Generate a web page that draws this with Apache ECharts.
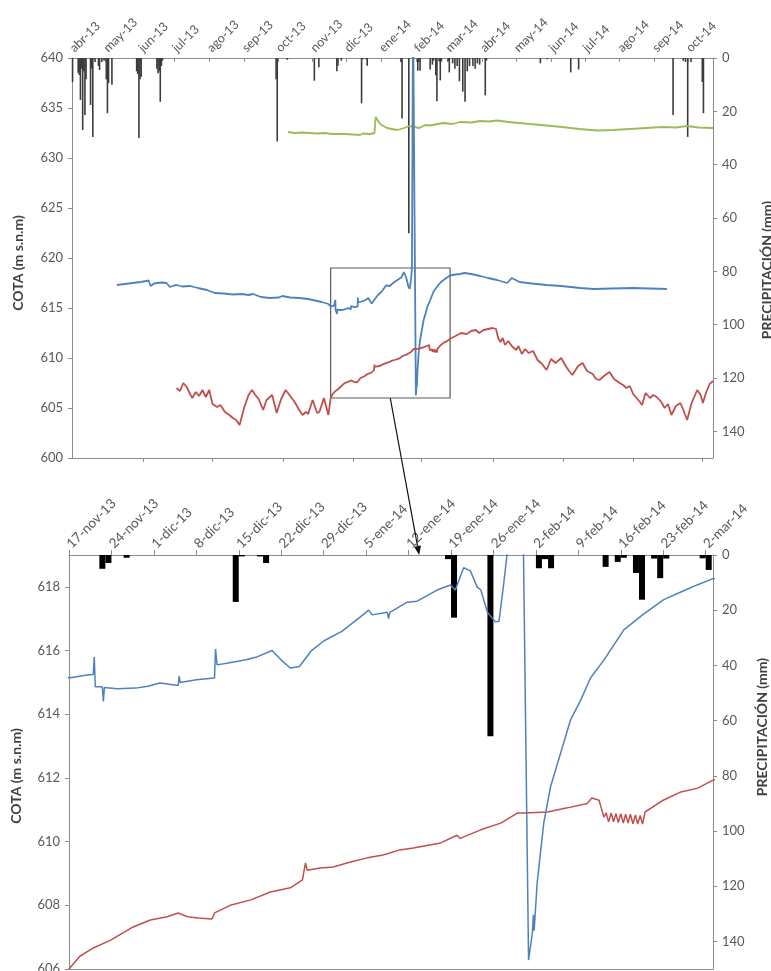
<!DOCTYPE html>
<html>
<head>
<meta charset="utf-8">
<script src="https://cdn.jsdelivr.net/npm/echarts@6/dist/echarts.min.js"></script>
<style>
  html, body { margin: 0; padding: 0; background: #fff; }
  #main { width: 771px; height: 971px; }
</style>
</head>
<body>
<div id="main"></div>
<script>
// nombres de los meses para las etiquetas
var MESES = ['ene', 'feb', 'mar', 'abr', 'may', 'jun', 'jul', 'ago', 'sep', 'oct', 'nov', 'dic'];

// ejes de tiempo
var fechaIni = '2013-04-01', fechaFin = '2014-10-23';
var zoomIni = '2013-11-17', zoomFin = '2014-03-03 05:00';
var zoomCotaMin = 606, zoomCotaMax = 619;

var monthTicks = ['2013-04-01', '2013-05-01', '2013-06-01', '2013-07-01', '2013-08-01', '2013-09-01',
  '2013-10-01', '2013-11-01', '2013-12-01', '2014-01-01', '2014-02-01', '2014-03-01', '2014-04-01',
  '2014-05-01', '2014-06-01', '2014-07-01', '2014-08-01', '2014-09-01', '2014-10-01'];
var lowerTicks = ['2013-06-03', '2013-08-04', '2013-10-06', '2013-12-07', '2014-02-06', '2014-04-11',
  '2014-06-12', '2014-08-13', '2014-10-13'];
var weekTicks = ['2013-11-17', '2013-11-24', '2013-12-01', '2013-12-08', '2013-12-15', '2013-12-22',
  '2013-12-29', '2014-01-05', '2014-01-12', '2014-01-19', '2014-01-26', '2014-02-02', '2014-02-09',
  '2014-02-16', '2014-02-23', '2014-03-02'];

// precipitación diaria (mm)
var precip = [
  ['2013-04-01', 9.0], ['2013-04-06', 5.5], ['2013-04-07', 6.4], ['2013-04-08', 15.7], ['2013-04-09', 4.0],
  ['2013-04-10', 27.0], ['2013-04-11', 5.0], ['2013-04-12', 21.4], ['2013-04-13', 8.0], ['2013-04-17', 17.6],
  ['2013-04-18', 4.0], ['2013-04-19', 29.6], ['2013-04-21', 1.5], ['2013-04-24', 3.0], ['2013-04-25', 4.5],
  ['2013-04-27', 1.5], ['2013-04-29', 1.0], ['2013-05-01', 8.0], ['2013-05-02', 20.7], ['2013-05-03', 9.4],
  ['2013-05-06', 10.0], ['2013-05-28', 5.0], ['2013-05-29', 6.0], ['2013-05-30', 30.0], ['2013-05-31', 8.0],
  ['2013-06-01', 7.0], ['2013-06-15', 4.0], ['2013-06-16', 5.7], ['2013-06-17', 5.0], ['2013-06-18', 16.4],
  ['2013-06-19', 3.0], ['2013-06-20', 1.0], ['2013-09-29', 8.0], ['2013-09-30', 31.3], ['2013-10-09', 0.7],
  ['2013-11-02', 8.5], ['2013-11-06', 3.5],
  ['2013-11-22', 5.0], ['2013-11-23', 2.9], ['2013-11-26', 1.0], ['2013-12-14', 17.0], ['2013-12-15', 0.5],
  ['2013-12-18', 0.5], ['2013-12-19', 2.9], ['2014-01-18', 1.5], ['2014-01-19', 22.7], ['2014-01-25', 65.7],
  ['2014-02-02', 4.8], ['2014-02-03', 1.5], ['2014-02-04', 4.8], ['2014-02-13', 4.3], ['2014-02-15', 2.5],
  ['2014-02-16', 1.0], ['2014-02-18', 6.5], ['2014-02-19', 16.2], ['2014-02-21', 1.3], ['2014-02-22', 8.4],
  ['2014-02-23', 1.3], ['2014-03-01', 1.2], ['2014-03-02', 5.4],
  ['2014-03-05', 2.0], ['2014-03-07', 4.0], ['2014-03-09', 3.0], ['2014-03-11', 8.7], ['2014-03-14', 12.6],
  ['2014-03-16', 16.4], ['2014-03-18', 5.0], ['2014-03-20', 3.0], ['2014-03-23', 3.0], ['2014-03-25', 4.0],
  ['2014-03-27', 2.0], ['2014-03-29', 2.5], ['2014-04-03', 14.0], ['2014-04-04', 1.0], ['2014-05-22', 2.0],
  ['2014-05-28', 0.5], ['2014-06-18', 5.4], ['2014-06-25', 4.3], ['2014-09-17', 21.4], ['2014-09-26', 1.0],
  ['2014-09-28', 1.5], ['2014-09-30', 29.6], ['2014-10-03', 1.5], ['2014-10-13', 9.0], ['2014-10-14', 20.7]
];

// cota (m s.n.m) de los tres piezómetros
var cotaVerde = [
  ['2013-10-10', 632.6], ['2013-10-16', 632.5], ['2013-10-22', 632.55], ['2013-11-05', 632.45], ['2013-11-12', 632.5],
  ['2013-11-18', 632.4], ['2013-11-30', 632.4], ['2013-12-07', 632.35], ['2013-12-13', 632.3], ['2013-12-16', 632.45],
  ['2013-12-22', 632.4], ['2013-12-26', 632.5], ['2013-12-27', 634.1], ['2013-12-31', 633.4], ['2014-01-06', 633.0],
  ['2014-01-15', 632.8], ['2014-01-20', 632.95], ['2014-01-26', 633.2], ['2014-02-04', 633.0], ['2014-02-09', 633.3],
  ['2014-02-13', 633.25], ['2014-02-25', 633.5], ['2014-03-05', 633.4], ['2014-03-12', 633.6], ['2014-03-22', 633.55],
  ['2014-03-30', 633.7], ['2014-04-07', 633.65], ['2014-04-14', 633.75], ['2014-04-24', 633.6], ['2014-05-13', 633.4],
  ['2014-05-28', 633.25], ['2014-06-11', 633.1], ['2014-06-26', 632.9], ['2014-07-12', 632.75], ['2014-07-26', 632.8],
  ['2014-08-10', 632.9], ['2014-08-25', 633.0], ['2014-09-08', 633.1], ['2014-09-20', 633.05], ['2014-09-30', 633.2],
  ['2014-10-10', 633.05], ['2014-10-23', 633.0]
];

var cotaAzul = [
  ['2013-05-11', 617.3], ['2013-05-18', 617.4], ['2013-05-25', 617.5], ['2013-06-01', 617.6], ['2013-06-06', 617.7],
  ['2013-06-08', 617.75], ['2013-06-10', 617.2], ['2013-06-13', 617.45], ['2013-06-16', 617.5], ['2013-06-20', 617.55],
  ['2013-06-24', 617.5], ['2013-06-27', 617.1], ['2013-07-01', 617.25], ['2013-07-03', 617.3], ['2013-07-08', 617.15],
  ['2013-07-15', 617.2], ['2013-07-22', 617.0], ['2013-07-30', 616.8], ['2013-08-06', 616.5], ['2013-08-14', 616.45],
  ['2013-08-22', 616.35], ['2013-08-30', 616.4], ['2013-09-05', 616.3], ['2013-09-09', 616.4], ['2013-09-16', 616.1],
  ['2013-09-24', 616.0], ['2013-10-02', 616.05], ['2013-10-05', 616.2], ['2013-10-12', 616.05], ['2013-10-20', 616.0],
  ['2013-10-28', 615.9], ['2013-11-03', 615.75], ['2013-11-09', 615.6], ['2013-11-15', 615.4],
  ['2013-11-17', 615.14], ['2013-11-20', 615.23], ['2013-11-21 00:00', 615.25], ['2013-11-21 04:00', 615.8],
  ['2013-11-21 08:00', 614.86], ['2013-11-22 12:00', 614.86], ['2013-11-22 16:00', 614.4], ['2013-11-22 20:00', 614.84],
  ['2013-11-25', 614.8], ['2013-11-28', 614.82], ['2013-11-30', 614.88], ['2013-12-02', 614.98], ['2013-12-05', 614.9],
  ['2013-12-05 04:00', 615.2], ['2013-12-05 08:00', 615.0], ['2013-12-08', 615.08], ['2013-12-11 00:00', 615.14],
  ['2013-12-11 04:00', 616.05], ['2013-12-11 10:00', 615.55], ['2013-12-13', 615.6], ['2013-12-16', 615.7],
  ['2013-12-18', 615.8], ['2013-12-20 12:00', 616.0], ['2013-12-22', 615.7], ['2013-12-23 12:00', 615.45],
  ['2013-12-25', 615.5], ['2013-12-27', 616.0], ['2013-12-29', 616.3], ['2014-01-01', 616.6], ['2014-01-04', 617.05],
  ['2014-01-05 10:00', 617.27], ['2014-01-06', 617.12], ['2014-01-08 12:00', 617.2], ['2014-01-08 17:00', 617.0],
  ['2014-01-08 22:00', 617.2], ['2014-01-11 19:00', 617.52], ['2014-01-13 10:00', 617.55], ['2014-01-16 17:00', 617.9],
  ['2014-01-18 22:00', 618.06], ['2014-01-19 17:00', 617.9], ['2014-01-21 02:00', 618.6], ['2014-01-22 05:00', 618.5],
  ['2014-01-23 07:00', 618.0], ['2014-01-23 22:00', 617.9], ['2014-01-25', 617.2], ['2014-01-26 08:00', 616.9],
  ['2014-01-26 22:00', 616.92], ['2014-01-27 17:00', 618.12], ['2014-01-28 07:00', 619.1], ['2014-01-29 06:00', 645.0],
  ['2014-01-31 19:00', 606.28], ['2014-02-01 10:00', 607.13], ['2014-02-01 14:00', 607.7], ['2014-02-01 17:00', 607.2],
  ['2014-02-02 05:00', 608.7], ['2014-02-03 07:00', 610.58], ['2014-02-04 10:00', 611.72], ['2014-02-06 02:00', 612.78],
  ['2014-02-07 17:00', 613.82], ['2014-02-09 10:00', 614.45], ['2014-02-11', 615.14], ['2014-02-13 05:00', 615.7],
  ['2014-02-16 12:00', 616.65], ['2014-02-19 14:00', 617.12], ['2014-02-23 02:00', 617.6], ['2014-02-25 22:00', 617.84],
  ['2014-02-28 14:00', 618.06], ['2014-03-03 02:00', 618.25],
  ['2014-03-08', 618.35], ['2014-03-12', 618.4], ['2014-03-16', 618.5], ['2014-03-22', 618.4], ['2014-03-30', 618.2],
  ['2014-04-06', 618.0], ['2014-04-14', 617.8], ['2014-04-23', 617.5], ['2014-04-27', 618.0], ['2014-05-04', 617.6],
  ['2014-05-15', 617.45], ['2014-05-28', 617.3], ['2014-06-10', 617.2], ['2014-06-27', 617.0], ['2014-07-09', 616.9],
  ['2014-07-25', 616.95], ['2014-08-13', 617.0], ['2014-08-28', 616.95], ['2014-09-12', 616.9]
];

var cotaRoja = [
  ['2013-07-03', 607.0], ['2013-07-06', 606.7], ['2013-07-09', 607.5], ['2013-07-12', 607.1], ['2013-07-15', 606.4],
  ['2013-07-17', 606.0], ['2013-07-20', 606.6], ['2013-07-23', 606.2], ['2013-07-26', 606.8], ['2013-07-29', 606.1],
  ['2013-08-01', 606.8], ['2013-08-04', 605.4], ['2013-08-08', 605.1], ['2013-08-11', 605.3], ['2013-08-15', 604.6],
  ['2013-08-19', 604.3], ['2013-08-22', 604.0], ['2013-08-25', 603.8], ['2013-08-28', 603.3], ['2013-09-01', 605.0],
  ['2013-09-05', 606.3], ['2013-09-08', 606.8], ['2013-09-11', 606.3], ['2013-09-14', 605.9], ['2013-09-18', 604.8],
  ['2013-09-21', 605.8], ['2013-09-23', 606.0], ['2013-09-26', 606.3], ['2013-09-30', 604.5], ['2013-10-04', 605.9],
  ['2013-10-08', 606.8], ['2013-10-12', 606.2], ['2013-10-16', 605.6], ['2013-10-20', 604.8], ['2013-10-23', 604.3],
  ['2013-10-26', 604.6], ['2013-10-28', 604.4], ['2013-11-01', 605.8], ['2013-11-05', 604.5], ['2013-11-07', 604.6],
  ['2013-11-11', 606.0], ['2013-11-15', 604.3],
  ['2013-11-17', 606.0], ['2013-11-18 19:00', 606.4], ['2013-11-21', 606.66], ['2013-11-23 19:00', 606.9],
  ['2013-11-27 14:00', 607.32], ['2013-11-30 10:00', 607.54], ['2013-12-03 05:00', 607.64], ['2013-12-05', 607.76],
  ['2013-12-06 14:00', 607.64], ['2013-12-08 07:00', 607.6], ['2013-12-10 14:00', 607.57], ['2013-12-11', 607.76],
  ['2013-12-13 14:00', 608.0], ['2013-12-17', 608.17], ['2013-12-20 05:00', 608.42], ['2013-12-23 12:00', 608.55],
  ['2013-12-25 12:00', 608.8], ['2013-12-26', 609.33], ['2013-12-26 07:00', 609.1], ['2013-12-28 10:00', 609.17],
  ['2013-12-30 14:00', 609.2], ['2014-01-02 10:00', 609.36], ['2014-01-05 05:00', 609.49], ['2014-01-07 19:00', 609.58],
  ['2014-01-10 14:00', 609.74], ['2014-01-12 19:00', 609.8], ['2014-01-17 07:00', 609.96], ['2014-01-20', 610.2],
  ['2014-01-20 12:00', 610.1], ['2014-01-23 22:00', 610.37], ['2014-01-27 05:00', 610.58], ['2014-01-30', 610.9],
  ['2014-01-31', 610.9], ['2014-02-03 22:00', 610.93], ['2014-02-07 05:00', 611.06], ['2014-02-10 12:00', 611.2],
  ['2014-02-11 05:00', 611.37], ['2014-02-12 10:00', 611.3], ['2014-02-13 05:00', 610.77], ['2014-02-13 14:00', 610.9],
  ['2014-02-14 00:00', 610.62], ['2014-02-14 10:00', 610.9], ['2014-02-14 19:00', 610.62], ['2014-02-15 05:00', 610.88],
  ['2014-02-15 14:00', 610.6], ['2014-02-16 00:00', 610.88], ['2014-02-16 10:00', 610.58], ['2014-02-16 19:00', 610.86],
  ['2014-02-17 05:00', 610.58], ['2014-02-17 14:00', 610.86], ['2014-02-18 00:00', 610.56], ['2014-02-18 10:00', 610.84],
  ['2014-02-18 19:00', 610.55], ['2014-02-19 05:00', 610.82], ['2014-02-19 14:00', 610.55], ['2014-02-20', 610.93],
  ['2014-02-23', 611.3], ['2014-02-25 22:00', 611.56], ['2014-02-28 17:00', 611.68], ['2014-03-03 05:00', 611.93],
  ['2014-03-08', 612.2], ['2014-03-13', 612.5], ['2014-03-18', 612.4], ['2014-03-22', 612.7], ['2014-03-26', 612.8],
  ['2014-03-29', 612.5], ['2014-04-02', 612.8], ['2014-04-10', 613.0], ['2014-04-13', 612.9], ['2014-04-15', 612.0],
  ['2014-04-17', 611.6], ['2014-04-19', 612.0], ['2014-04-21', 611.3], ['2014-04-24', 611.7], ['2014-04-27', 611.2],
  ['2014-05-01', 610.8], ['2014-05-03', 611.2], ['2014-05-06', 610.4], ['2014-05-09', 610.9], ['2014-05-12', 610.5],
  ['2014-05-16', 610.7], ['2014-05-20', 609.8], ['2014-05-24', 609.4], ['2014-05-28', 608.8], ['2014-06-01', 609.9],
  ['2014-06-05', 609.5], ['2014-06-10', 610.0], ['2014-06-14', 609.2], ['2014-06-17', 608.7], ['2014-06-20', 608.3],
  ['2014-06-25', 609.2], ['2014-06-29', 609.5], ['2014-07-03', 608.7], ['2014-07-08', 608.4], ['2014-07-11', 607.9],
  ['2014-07-14', 607.8], ['2014-07-18', 608.2], ['2014-07-23', 608.6], ['2014-07-27', 607.9], ['2014-08-01', 607.5],
  ['2014-08-04', 607.3], ['2014-08-07', 607.0], ['2014-08-10', 607.2], ['2014-08-13', 606.4], ['2014-08-16', 606.0],
  ['2014-08-19', 605.6], ['2014-08-21', 605.3], ['2014-08-24', 606.5], ['2014-08-28', 606.0], ['2014-08-31', 606.3],
  ['2014-09-03', 606.1], ['2014-09-07', 605.6], ['2014-09-10', 605.0], ['2014-09-13', 605.4], ['2014-09-16', 604.3],
  ['2014-09-20', 605.2], ['2014-09-24', 605.5], ['2014-09-27', 604.7], ['2014-09-30', 603.8], ['2014-10-04', 605.5],
  ['2014-10-09', 606.8], ['2014-10-12', 606.3], ['2014-10-14', 605.5], ['2014-10-17', 606.6], ['2014-10-20', 607.4],
  ['2014-10-23', 607.7]
];

var AZUL = '#4f81bd', ROJO = '#c0504d', VERDE = '#9bbb59';
var GRIS_EJE = '#8c8c8c', GRIS_TXT = '#595959';
var FUENTE = 'Lato';

// 'aaaa-mm-dd[ hh:mm]' -> milisegundos (hora local)
function ms(s) {
  var p = s.split(/[- :]/).map(Number);
  return new Date(p[0], p[1] - 1, p[2], p[3] || 0, p[4] || 0).getTime();
}
function serie(arr, desfase) {
  return arr.map(function (p) { return [ms(p[0]) + (desfase || 0), p[1]]; });
}
var MEDIO_DIA = 12 * 3600 * 1000; // barras centradas en el día

function etiquetaMes(v) {
  var d = new Date(v);
  return MESES[d.getMonth()] + '-' + String(d.getFullYear()).slice(2);
}
function etiquetaDia(v) {
  var d = new Date(v);
  return d.getDate() + '-' + MESES[d.getMonth()] + '-' + String(d.getFullYear()).slice(2);
}

function ejeCota(grid, min, max, interval, gapName, pad) {
  return {
    type: 'value', gridIndex: grid, position: 'left', min: min, max: max, interval: interval,
    name: 'COTA (m s.n.m)', nameLocation: 'middle', nameRotate: 90, nameGap: gapName,
    nameTextStyle: { fontFamily: FUENTE, fontWeight: 'bold', fontSize: 14, color: '#404040', padding: pad },
    axisLine: { show: true, lineStyle: { color: GRIS_EJE } },
    axisTick: { show: true, length: 4, lineStyle: { color: GRIS_EJE } },
    axisLabel: { fontFamily: FUENTE, fontSize: 13, color: GRIS_TXT, margin: 9, showMaxLabel: max % interval === 0 },
    splitLine: { show: false }
  };
}
function ejePrecip(grid, gapName, pad) {
  return {
    type: 'value', gridIndex: grid, position: 'right', inverse: true, min: 0, max: 150, interval: 20,
    name: 'PRECIPITACIÓN (mm)', nameLocation: 'middle', nameRotate: 90, nameGap: gapName,
    nameTextStyle: { fontFamily: FUENTE, fontWeight: 'bold', fontSize: 14, color: '#404040', padding: pad },
    axisLine: { show: true, lineStyle: { color: GRIS_EJE } },
    axisTick: { show: true, length: 4, lineStyle: { color: GRIS_EJE } },
    axisLabel: { fontFamily: FUENTE, fontSize: 13, color: GRIS_TXT, margin: 9, showMaxLabel: false },
    splitLine: { show: false }
  };
}
function ejeFechas(grid, pos, ini, fin, ticks, tickOpt, labelOpt) {
  return {
    type: 'value', gridIndex: grid, position: pos, min: ms(ini), max: ms(fin), scale: true,
    axisLine: { show: true, onZero: false, lineStyle: { color: GRIS_EJE } },
    axisTick: Object.assign({ show: !!ticks, customValues: ticks ? ticks.map(ms) : undefined,
      lineStyle: { color: GRIS_EJE } }, tickOpt),
    axisLabel: labelOpt ? Object.assign({ customValues: ticks.map(ms), rotate: -45, fontFamily: FUENTE,
      color: GRIS_TXT }, labelOpt) : { show: false },
    splitLine: { show: false }
  };
}

var option = {
  backgroundColor: '#fff',
  animation: false,
  grid: [
    { left: 72, top: 58, width: 641, height: 400, outerBoundsMode: 'none' },
    { left: 69, top: 555, width: 644, height: 414, outerBoundsMode: 'none' }
  ],
  xAxis: [
    ejeFechas(0, 'top', fechaIni, fechaFin, monthTicks, { inside: true, length: 4 },
      { margin: 8, fontSize: 12.5, formatter: etiquetaMes }),
    ejeFechas(0, 'bottom', fechaIni, fechaFin, lowerTicks, { length: 4 }, null),
    ejeFechas(1, 'top', zoomIni, zoomFin, weekTicks, { length: 5 },
      { margin: 9, fontSize: 13.5, formatter: etiquetaDia }),
    ejeFechas(1, 'bottom', zoomIni, zoomFin, null, {}, null)
  ],
  yAxis: [
    ejeCota(0, 600, 640, 5, 47, [0, 10, 0, 0]),
    ejePrecip(0, 47, [0, 24, 0, 0]),
    ejeCota(1, zoomCotaMin, zoomCotaMax, 2, 46, [0, 28, 0, 0]),
    ejePrecip(1, 42, [0, 0, 0, 70])
  ],
  series: [
    {
      name: 'Precipitación', type: 'bar', xAxisIndex: 0, yAxisIndex: 1, data: serie(precip, MEDIO_DIA),
      barWidth: 1.6, itemStyle: { color: '#3c3c3c' }, silent: true
    },
    {
      name: 'Piezómetro 1', type: 'line', xAxisIndex: 0, yAxisIndex: 0, data: serie(cotaVerde),
      showSymbol: false, lineStyle: { color: VERDE, width: 1.8 }, itemStyle: { color: VERDE }, silent: true
    },
    {
      name: 'Piezómetro 2', type: 'line', xAxisIndex: 0, yAxisIndex: 0, data: serie(cotaAzul),
      showSymbol: false, lineStyle: { color: AZUL, width: 1.8 }, itemStyle: { color: AZUL }, silent: true,
      markArea: {
        silent: true,
        itemStyle: { color: 'rgba(0,0,0,0)', borderColor: '#5a5a5a', borderWidth: 1.2 },
        data: [[{ xAxis: ms(zoomIni), yAxis: zoomCotaMin }, { xAxis: ms(zoomFin), yAxis: zoomCotaMax }]]
      }
    },
    {
      name: 'Piezómetro 3', type: 'line', xAxisIndex: 0, yAxisIndex: 0, data: serie(cotaRoja),
      showSymbol: false, lineStyle: { color: ROJO, width: 1.8 }, itemStyle: { color: ROJO }, silent: true
    },
    {
      name: 'Precipitación (detalle)', type: 'bar', xAxisIndex: 2, yAxisIndex: 3, data: serie(precip, MEDIO_DIA),
      barWidth: 6, itemStyle: { color: '#000' }, silent: true
    },
    {
      name: 'Piezómetro 2 (detalle)', type: 'line', xAxisIndex: 2, yAxisIndex: 2, data: serie(cotaAzul),
      showSymbol: false, lineStyle: { color: AZUL, width: 1.5 }, itemStyle: { color: AZUL }, silent: true
    },
    {
      name: 'Piezómetro 3 (detalle)', type: 'line', xAxisIndex: 2, yAxisIndex: 2, data: serie(cotaRoja),
      showSymbol: false, lineStyle: { color: ROJO, width: 1.5 }, itemStyle: { color: ROJO }, silent: true
    }
  ]
};

var chart = echarts.init(document.getElementById('main'));
chart.setOption(option);

// flecha desde el recuadro hasta el gráfico de detalle
var a = chart.convertToPixel({ seriesIndex: 2 }, [ms('2014-01-09'), zoomCotaMin]);
var b = chart.convertToPixel({ seriesIndex: 5 }, [ms('2014-01-13 18:00'), zoomCotaMax]);
var dx = b[0] - a[0], dy = b[1] - a[1], len = Math.sqrt(dx * dx + dy * dy);
var ux = dx / len, uy = dy / len, largo = 9, ancho = 3.5;
var base = [b[0] - ux * largo, b[1] - uy * largo];
chart.setOption({
  graphic: [
    { type: 'line', silent: true, z: 100, shape: { x1: a[0], y1: a[1], x2: base[0], y2: base[1] },
      style: { stroke: '#111', lineWidth: 1.2 } },
    { type: 'polygon', silent: true, z: 100,
      shape: { points: [[b[0], b[1]], [base[0] - uy * ancho, base[1] + ux * ancho], [base[0] + uy * ancho, base[1] - ux * ancho]] },
      style: { fill: '#111' } }
  ]
});
</script>
</body>
</html>
